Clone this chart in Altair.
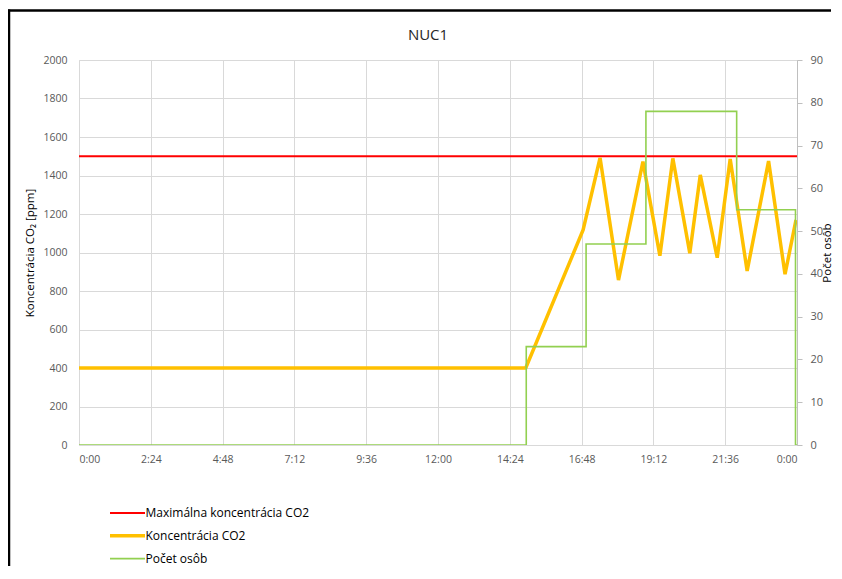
import altair as alt
import pandas as pd

# ---- data (time in minutes from 0:00) ----
series_names = ["Maximálna koncentrácia CO2", "Koncentrácia CO2", "Počet osôb"]

max_t = [0, 1440]
max_v = [1500, 1500]

co2_t = [0, 896, 1011, 1045, 1082, 1131, 1165, 1191, 1225, 1246, 1280, 1306, 1340, 1383, 1416, 1438]
co2_v = [400, 400, 1117, 1492, 857, 1472, 983, 1489, 996, 1403, 973, 1486, 904, 1475, 887, 1169]

ppl_t = [0, 897, 1017, 1137, 1319, 1437, 1440]
ppl_v = [0, 23, 47, 78, 55, 0, 0]

x_ticks = [0, 144, 288, 432, 576, 720, 864, 1008, 1152, 1296, 1440]
y_ticks = list(range(0, 2001, 200))
y2_ticks = list(range(0, 91, 10))

colors = ["#FF0000", "#FFC000", "#92D050"]
widths = [2, 3.5, 1.6]

left_df = pd.DataFrame(
    {"t": max_t + co2_t,
     "v": max_v + co2_v,
     "s": [series_names[0]] * len(max_t) + [series_names[1]] * len(co2_t),
     "o": list(range(len(max_t))) + list(range(len(co2_t)))}
)
right_df = pd.DataFrame({"t": ppl_t, "v": ppl_v, "s": [series_names[2]] * len(ppl_t)})

FONT = "Open Sans"
GRID = "#d9d9d9"
LABEL = "#595959"

legend_def = alt.Legend(
    title=None, orient="none", legendX=39.5, legendY=445,
    symbolType="M-2.5,0H2.5", symbolSize=196, labelOffset=9,
    rowPadding=7.8, padding=0, labelFont=FONT, labelFontSize=12,
    labelColor="#000000", direction="vertical", labelLimit=400,
)

color_enc = alt.Color(
    "s:N",
    scale=alt.Scale(domain=series_names, range=colors),
    legend=legend_def,
)
width_enc = alt.StrokeWidth(
    "s:N",
    scale=alt.Scale(type="ordinal", domain=series_names, range=widths),
    legend=legend_def,
)

x_enc = alt.X(
    "t:Q",
    scale=alt.Scale(domain=[0, 1440], nice=False, zero=False),
    axis=alt.Axis(
        values=x_ticks, title=None, grid=True, gridColor=GRID,
        domainColor=GRID, ticks=False, labelPadding=9,
        labelFont=FONT, labelFontSize=10.5, labelColor=LABEL,
        labelExpr="floor(datum.value/60)%24 + ':' + (datum.value%60<10 ? '0' : '') + (datum.value%60)",
    ),
)

left = alt.Chart(left_df).mark_line(clip=True).encode(
    x=x_enc,
    y=alt.Y(
        "v:Q",
        scale=alt.Scale(domain=[0, 2000], nice=False),
        axis=alt.Axis(
            values=y_ticks, format="d", title="Koncentrácia CO₂ [ppm]", grid=True, gridColor=GRID,
            domain=False, ticks=False, labelPadding=12,
            labelFont=FONT, labelFontSize=10.5, labelColor=LABEL,
            titleFont=FONT, titleFontSize=11.5, titleFontWeight="normal", titleColor="#000000",
            titlePadding=7,
        ),
    ),
    color=color_enc,
    strokeWidth=width_enc,
    order="o:Q",
    detail="s:N",
)

right = alt.Chart(right_df).mark_line(interpolate="step-after", clip=True).encode(
    x=x_enc,
    y=alt.Y(
        "v:Q",
        scale=alt.Scale(domain=[0, 90], nice=False),
        axis=alt.Axis(
            orient="right", values=y2_ticks, title="Počet osôb", grid=False,
            domainColor="#bfbfbf", tickColor="#bfbfbf", tickSize=5, labelPadding=8,
            labelFont=FONT, labelFontSize=11, labelColor=LABEL,
            titleFont=FONT, titleFontSize=11.5, titleFontWeight="normal", titleColor="#000000",
            titleAngle=270, titlePadding=10,
        ),
    ),
    color=color_enc,
    strokeWidth=width_enc,
)

frame_df = pd.DataFrame({"a": [0]})
frame_left = alt.Chart(frame_df).mark_rule(color="#000000", strokeWidth=2.5).encode(
    x=alt.value(-70), y=alt.value(-50.5), y2=alt.value(600)
)
frame_top = alt.Chart(frame_df).mark_rule(color="#000000", strokeWidth=2.5).encode(
    x=alt.value(-71), x2=alt.value(752), y=alt.value(-49.5)
)

chart = alt.layer(left, right, frame_left, frame_top).resolve_scale(y="independent").properties(
    width=718, height=385,
    autosize=alt.AutoSizeParams(type="none"),
    padding={"left": 71, "top": 52, "right": 37, "bottom": 121},
    title=alt.TitleParams(
        "NUC1", font=FONT, fontSize=15, fontWeight="normal", color="#262626",
        anchor="middle", dx=-10, offset=0, dy=35,
    ),
).configure_view(stroke=None).configure(background="white")

chart.save("out.html", embed_options={"renderer": "svg", "actions": False})
